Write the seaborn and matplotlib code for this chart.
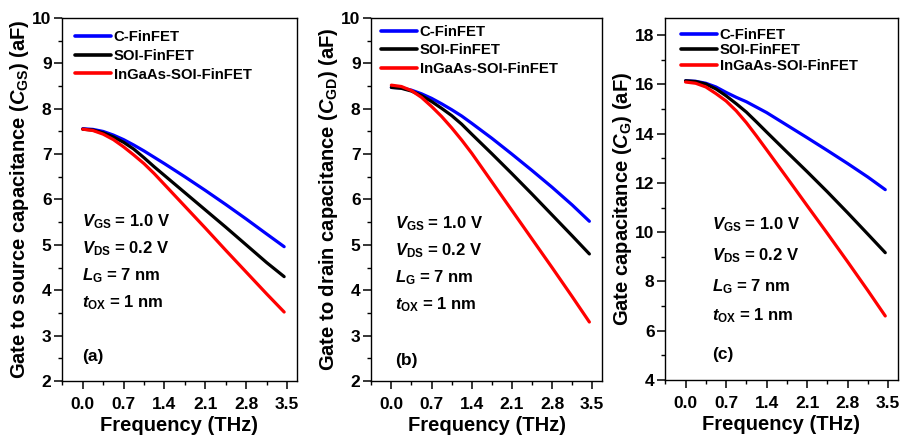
import numpy as np
import pandas as pd
import matplotlib
matplotlib.use("Agg")
import matplotlib.pyplot as plt
from matplotlib.ticker import MultipleLocator
import seaborn as sns

# ---------------- data ----------------
freq = [0.0, 0.175, 0.35, 0.525, 0.7, 0.875, 1.05, 1.225, 1.4,
        1.75, 2.1, 2.45, 2.8, 3.15, 3.45]
devices = ["C-FinFET", "SOI-FinFET", "InGaAs-SOI-FinFET"]

# (a) gate-to-source capacitance, aF
cgs_c = [7.56, 7.545, 7.50, 7.42, 7.32, 7.20, 7.07, 6.93, 6.79,
         6.50, 6.20, 5.89, 5.57, 5.24, 4.96]
cgs_soi = [7.55, 7.53, 7.47, 7.38, 7.26, 7.11, 6.92, 6.72, 6.53,
           6.15, 5.77, 5.39, 5.00, 4.61, 4.30]
cgs_ingaas = [7.55, 7.52, 7.44, 7.32, 7.16, 6.98, 6.79, 6.57, 6.33,
              5.85, 5.37, 4.88, 4.40, 3.92, 3.52]

# (b) gate-to-drain capacitance, aF
cgd_c = [8.47, 8.46, 8.41, 8.33, 8.23, 8.11, 7.98, 7.84, 7.68,
         7.35, 7.00, 6.64, 6.27, 5.88, 5.52]
cgd_soi = [8.47, 8.45, 8.39, 8.29, 8.16, 8.01, 7.85, 7.66, 7.44,
           7.01, 6.57, 6.12, 5.66, 5.20, 4.80]
cgd_ingaas = [8.52, 8.49, 8.40, 8.25, 8.05, 7.83, 7.58, 7.31, 7.02,
              6.39, 5.76, 5.13, 4.50, 3.86, 3.30]

# (c) gate capacitance, aF
cg_c = [16.15, 16.13, 16.05, 15.90, 15.68, 15.48, 15.30, 15.08, 14.86,
        14.35, 13.84, 13.32, 12.79, 12.24, 11.73]
cg_soi = [16.15, 16.12, 16.02, 15.82, 15.54, 15.22, 14.88, 14.48, 14.07,
          13.26, 12.46, 11.64, 10.79, 9.92, 9.17]
cg_ingaas = [16.10, 16.05, 15.90, 15.63, 15.33, 14.93, 14.45, 13.91, 13.35,
             12.22, 11.08, 9.95, 8.80, 7.63, 6.60]

x_ticks = [0.0, 0.7, 1.4, 2.1, 2.8, 3.5]
x_ticklabels = ["0.0", "0.7", "1.4", "2.1", "2.8", "3.5"]

ylabels = [r"Gate to source capacitance ($C_{\rm GS}$) (aF)",
           r"Gate to drain capacitance ($C_{\rm GD}$) (aF)",
           r"Gate capacitance ($C_{\rm G}$) (aF)"]
panel_tags = ["(a)", "(b)", "(c)"]
cond_lines = [r"$V_{\rm GS}$ = 1.0 V", r"$V_{\rm DS}$ = 0.2 V",
              r"$L_{\rm G}$ = 7 nm", r"$t_{\rm OX}$ = 1 nm"]

# ---------------- style ----------------
sns.set_style("ticks")
plt.rcParams["font.family"] = ["Liberation Sans", "DejaVu Sans"]
plt.rcParams["font.weight"] = "bold"
plt.rcParams["axes.labelweight"] = "bold"
plt.rcParams["mathtext.fontset"] = "custom"
plt.rcParams["mathtext.rm"] = "Liberation Sans:bold"
plt.rcParams["mathtext.it"] = "Liberation Sans:italic:bold"
plt.rcParams["mathtext.bf"] = "Liberation Sans:bold"
plt.rcParams["xtick.direction"] = "out"
plt.rcParams["ytick.direction"] = "out"
plt.rcParams["xtick.color"] = "black"
plt.rcParams["ytick.color"] = "black"
plt.rcParams["xtick.bottom"] = True
plt.rcParams["ytick.left"] = True
plt.rcParams["text.color"] = "black"
plt.rcParams["axes.labelcolor"] = "black"

palette = {"C-FinFET": "#0000ff", "SOI-FinFET": "#000000", "InGaAs-SOI-FinFET": "#ff0000"}

def make_df(a, b, c):
    rows = []
    for dev, vals in zip(devices, [a, b, c]):
        for f, v in zip(freq, vals):
            rows.append({"Frequency": f, "Cap": v, "Device": dev})
    return pd.DataFrame(rows)

dfs = [make_df(cgs_c, cgs_soi, cgs_ingaas),
       make_df(cgd_c, cgd_soi, cgd_ingaas),
       make_df(cg_c, cg_soi, cg_ingaas)]

W, H = 902, 441
fig = plt.figure(figsize=(W / 100, H / 100), dpi=100)
fig.patch.set_facecolor("white")

boxes = [(62, 297, 18, 381), (371, 602, 18, 381), (665, 898, 18, 380)]
ylims = [(2, 10), (2, 10), (4, 18.7)]
ymaj = [1, 1, 2]
ymin = [0.5, 0.5, 1]
cond_x = [82, 395, 712]
cond_y = [[222, 249, 276, 303], [224, 251, 278, 305], [225, 256, 287, 316]]
tag_y = [357, 360, 355]
leg_xy = [(75, 30), (381, 25), (681, 28)]
leg_spacing = [0.32, 0.3, 0.1]

for i in range(3):
    l, r, t, b = boxes[i]
    ax = fig.add_axes([l / W, (H - b) / H, (r - l) / W, (b - t) / H])
    sns.lineplot(data=dfs[i], x="Frequency", y="Cap", hue="Device",
                 palette=palette, hue_order=devices, linewidth=2.3,
                 ax=ax, legend=True)
    ax.set_xlim(-0.355, 3.67)
    ax.set_ylim(*ylims[i])
    ax.set_xticks(x_ticks)
    ax.set_xticklabels(x_ticklabels)
    ax.xaxis.set_minor_locator(MultipleLocator(0.35))
    ax.yaxis.set_major_locator(MultipleLocator(ymaj[i]))
    ax.yaxis.set_minor_locator(MultipleLocator(ymin[i]))
    ax.tick_params(which="both", bottom=True, left=True, top=False, right=False,
                   direction="out", color="black")
    ax.tick_params(which="major", length=5.5, width=1.1, labelsize=12.5)
    ax.tick_params(axis="x", which="major", pad=6)
    ax.tick_params(axis="y", which="major", pad=2)
    ax.tick_params(which="minor", length=3.2, width=1.0)
    for sp in ax.spines.values():
        sp.set_linewidth(1.0)
        sp.set_color("black")
    ax.set_xlabel("Frequency (THz)", fontsize=14.5, labelpad=3)
    ax.set_ylabel(ylabels[i], fontsize=14.5, labelpad=1)

    lx, ly = leg_xy[i]
    leg = ax.legend(loc="upper left",
                    bbox_to_anchor=((lx - l) / (r - l), (b - ly) / (b - t)),
                    frameon=False, fontsize=10.7, handlelength=2.4,
                    handletextpad=0.2, labelspacing=leg_spacing[i],
                    borderaxespad=0.0, borderpad=0.0)
    for line in leg.get_lines():
        line.set_linewidth(2.6)
    for txt in leg.get_texts():
        txt.set_fontweight("bold")

    for s, yp in zip(cond_lines, cond_y[i]):
        ax.text((cond_x[i] - l) / (r - l), (b - yp) / (b - t), s,
                transform=ax.transAxes, fontsize=12, fontweight="bold",
                va="center", ha="left")
    ax.text((cond_x[i] - l) / (r - l), (b - tag_y[i]) / (b - t), panel_tags[i],
            transform=ax.transAxes, fontsize=12.5, fontweight="bold",
            va="center", ha="left")

fig.savefig("out.png", dpi=100, facecolor="white")
